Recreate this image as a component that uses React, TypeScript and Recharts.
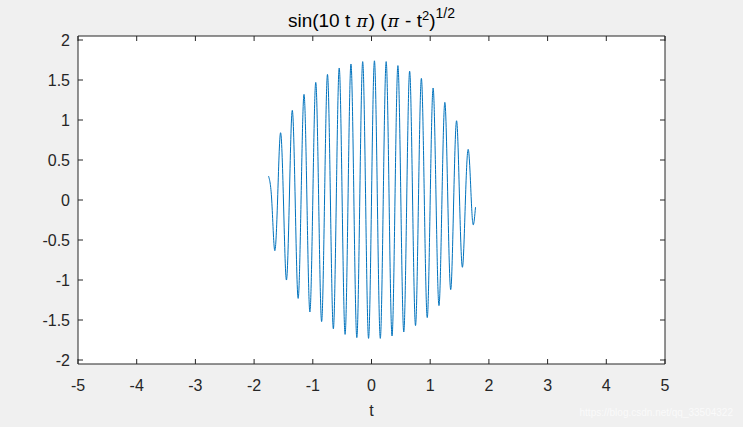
import React from 'react';
import { LineChart, Line, XAxis, YAxis, CartesianGrid } from 'recharts';

const tValues = [
  -1.755, -1.7, -1.65, -1.6, -1.55, -1.5, -1.45, -1.4, -1.35, -1.3, -1.25, -1.2, -1.15, -1.1, -1.05, -1.0,
  -0.95, -0.9, -0.85, -0.8, -0.75, -0.7, -0.65, -0.6, -0.55, -0.5, -0.45, -0.4, -0.35, -0.3, -0.25, -0.2,
  -0.15, -0.1, -0.05, 0, 0.05, 0.1, 0.15, 0.2, 0.25, 0.3, 0.35, 0.4, 0.45, 0.5, 0.55, 0.6, 0.65, 0.7,
  0.75, 0.8, 0.85, 0.9, 0.95, 1.0, 1.05, 1.1, 1.15, 1.2, 1.25, 1.3, 1.35, 1.4, 1.45, 1.5, 1.55, 1.6,
  1.65, 1.7, 1.735, 1.772,
];
const yValues = [
  0.3, 0, -0.63, 0, 0.84, 0, -1.0, 0, 1.12, 0, -1.23, 0, 1.32, 0, -1.4, 0,
  1.47, 0, -1.52, 0, 1.57, 0, -1.61, 0, 1.65, 0, -1.68, 0, 1.7, 0, -1.72, 0,
  1.73, 0, -1.73, 0, 1.74, 0, -1.73, 0, 1.73, 0, -1.7, 0, 1.68, 0, -1.65, 0, 1.61, 0,
  -1.57, 0, 1.52, 0, -1.47, 0, 1.4, 0, -1.32, 0, 1.22, 0, -1.12, 0, 0.99, 0, -0.84, 0,
  0.63, 0, -0.31, -0.09,
];
const xTicks = [-5, -4, -3, -2, -1, 0, 1, 2, 3, 4, 5];
const yTicks = [-2, -1.5, -1, -0.5, 0, 0.5, 1, 1.5, 2];
const xDomain = [-5, 5];
const yDomain = [-2.05, 2.05];
const xLabel = 't';
const watermark = 'https://blog.csdn.net/qq_33504322';

const data = tValues.map((t, i) => ({ t, y: yValues[i] }));

const AX = '#262626';
const FONT = '"Liberation Sans", Arial, Helvetica, sans-serif';
const FS = 16;

const BottomTick = (props: any) => {
  const { x, y, payload } = props;
  return (
    <g>
      <line x1={x} y1={y} x2={x} y2={y - 5} stroke={AX} strokeWidth={1} />
      <text x={x} y={y + 21} textAnchor="middle" dominantBaseline="central" fontFamily={FONT} fontSize={FS} fill={AX}>
        {String(payload.value)}
      </text>
    </g>
  );
};
const TopTick = (props: any) => {
  const { x, y } = props;
  return <line x1={x} y1={y} x2={x} y2={y + 5} stroke={AX} strokeWidth={1} />;
};
const LeftTick = (props: any) => {
  const { x, y, payload } = props;
  return (
    <g>
      <line x1={x} y1={y} x2={x + 5} y2={y} stroke={AX} strokeWidth={1} />
      <text x={x - 8} y={y} textAnchor="end" dominantBaseline="central" fontFamily={FONT} fontSize={FS} fill={AX}>
        {String(payload.value)}
      </text>
    </g>
  );
};
const RightTick = (props: any) => {
  const { x, y } = props;
  return <line x1={x} y1={y} x2={x - 5} y2={y} stroke={AX} strokeWidth={1} />;
};

const PI = (props: any) => (
  <tspan fontStyle="italic" fontFamily='"DejaVu Serif", serif' fontSize={17} {...props}>{'\u03c0'}</tspan>
);

export default function App() {
  return (
    <div style={{ position: 'absolute', left: 0, top: 0, width: 743, height: 427, background: '#f0f0f0' }}>
      <LineChart width={743} height={427} data={data} margin={{ top: 35, right: 77, bottom: 23, left: 38 }}>
        <CartesianGrid fill="#ffffff" stroke="none" horizontal={false} vertical={false} xAxisId="b" yAxisId="l" />
        <XAxis
          xAxisId="b"
          dataKey="t"
          type="number"
          domain={xDomain}
          ticks={xTicks}
          interval={0}
          height={40}
          tickSize={0}
          tickMargin={0}
          tickLine={false}
          axisLine={{ stroke: AX }}
          tick={<BottomTick />}
          allowDataOverflow
        />
        <XAxis
          xAxisId="t"
          dataKey="t"
          orientation="top"
          type="number"
          domain={xDomain}
          ticks={xTicks}
          interval={0}
          height={1}
          tickSize={0}
          tickMargin={0}
          tickLine={false}
          axisLine={{ stroke: AX }}
          tick={<TopTick />}
          allowDataOverflow
        />
        <YAxis
          yAxisId="l"
          type="number"
          domain={yDomain}
          ticks={yTicks}
          interval={0}
          width={40}
          tickSize={0}
          tickMargin={0}
          tickLine={false}
          axisLine={{ stroke: AX }}
          tick={<LeftTick />}
          allowDataOverflow
        />
        <YAxis
          yAxisId="r"
          orientation="right"
          type="number"
          domain={yDomain}
          ticks={yTicks}
          interval={0}
          width={1}
          tickSize={0}
          tickMargin={0}
          tickLine={false}
          axisLine={{ stroke: AX }}
          tick={<RightTick />}
          allowDataOverflow
        />
        <Line
          xAxisId="t"
          yAxisId="r"
          dataKey="y"
          type="natural"
          stroke="none"
          strokeOpacity={0}
          dot={false}
          activeDot={false}
          legendType="none"
          isAnimationActive={false}
        />
        <Line
          xAxisId="b"
          yAxisId="l"
          dataKey="y"
          type="natural"
          stroke="#0072BD"
          strokeWidth={1}
          dot={false}
          isAnimationActive={false}
        />
      </LineChart>
      <svg width={743} height={427} style={{ position: 'absolute', left: 0, top: 0, pointerEvents: 'none' }}>
        <text x={371.5} y={27} textAnchor="middle" fontFamily={FONT} fontSize={19} fill="#000">
          {'sin(10 t '}
          <PI dx={1} />
          <tspan dx={1}>{') ('}</tspan>
          <PI dx={1} />
          <tspan dx={1}>{' - t'}</tspan>
          <tspan dy={-7} fontSize={13}>2</tspan>
          <tspan dy={7}>{')'}</tspan>
          <tspan dy={-9} fontSize={14}>1/2</tspan>
        </text>
        <text x={371.5} y={410} textAnchor="middle" dominantBaseline="central" fontFamily={FONT} fontSize={FS} fill={AX}>
          {xLabel}
        </text>
        <text x={733} y={412} textAnchor="end" dominantBaseline="central" fontFamily={FONT} fontSize={10} fill="#fafafa">
          {watermark}
        </text>
      </svg>
    </div>
  );
}
